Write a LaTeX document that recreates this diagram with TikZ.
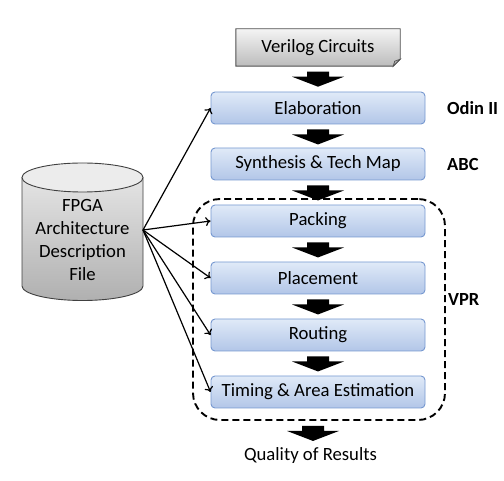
\documentclass[tikz,border=0pt]{standalone}
\usepackage{fontspec}
\setmainfont{Carlito}
\usetikzlibrary{arrows.meta,calc}
\definecolor{bluetop}{RGB}{224,234,248}
\definecolor{bluebot}{RGB}{178,198,232}
\definecolor{blueline}{RGB}{118,152,208}
\definecolor{graytop}{RGB}{244,244,244}
\definecolor{graybot}{RGB}{188,188,188}
\definecolor{grayline}{RGB}{80,80,80}
\definecolor{cyltop}{RGB}{228,228,228}
\definecolor{cylbot}{RGB}{176,176,176}
\definecolor{cylcap}{RGB}{236,236,236}
\tikzset{
  stepbox/.style={rectangle, rounded corners=4pt, draw=blueline, line width=0.9pt,
    top color=bluetop, bottom color=bluebot, minimum width=214pt, minimum height=32pt,
    inner sep=0pt, font=\fontsize{18.7}{22}\selectfont},
  toolname/.style={anchor=west, font=\bfseries\fontsize{18.5}{22}\selectfont, inner sep=0pt},
  plain/.style={font=\fontsize{18.7}{22}\selectfont, inner sep=0pt},
  feed/.style={line width=1.2pt, -{To[length=5pt,width=9pt]}},
  blockarrow/.pic={\fill[black] (-11,0) -- (11,0) -- (11,-5) -- (26,-5) -- (0,-15) -- (-26,-5) -- (-11,-5) -- cycle;}
}
\begin{document}
\begin{tikzpicture}[x=1pt,y=1pt]
\useasboundingbox (0,0) rectangle (504,-481);

% Verilog input (folded corner)
\node[minimum width=164pt, minimum height=37pt, inner sep=0pt] (ver) at (318,-47.5) {};
\shade[top color=graytop, bottom color=graybot, draw=grayline, line width=0.9pt]
  (ver.north west) -- (ver.north east) -- ([yshift=7pt]ver.south east) -- ([xshift=-7pt]ver.south east) -- (ver.south west) -- cycle;
\fill[gray!60, draw=grayline, line width=0.7pt] ([yshift=7pt]ver.south east) -- ([xshift=-7pt]ver.south east) -- ([xshift=-5.5pt,yshift=5pt]ver.south east) -- cycle;
\node[plain] (vertext) at (ver.center) {Verilog Circuits};

% flow steps
\node[stepbox] (elab) at (318,-108) {Elaboration};
\node[stepbox] (syn)  at (318,-164) {Synthesis \& Tech Map};
\node[stepbox] (pack) at (318,-221) {Packing};
\node[stepbox] (place) at (318,-278) {Placement};
\node[stepbox] (route) at (318,-335) {Routing};
\node[stepbox] (time) at (318,-392) {Timing \& Area Estimation};

% VPR dashed region
\node[draw, dashed, dash pattern=on 7pt off 4pt, line width=1.9pt, rounded corners=27pt,
  minimum width=252pt, minimum height=221pt, inner sep=0pt] (vpr) at (319,-309.5) {};

% tool labels
\node[toolname] (odin) at (447,-108) {Odin II};
\node[toolname] (abc) at (447,-164) {ABC};
\node[toolname] (vprlab) at (448,-300) {VPR};

% output
\node[plain] (qor) at (310.5,-456) {Quality of Results};

% block arrows
\pic at ([yshift=-5.5pt]ver.south) {blockarrow};
\pic at ([yshift=-5pt]elab.south) {blockarrow};
\pic at ([yshift=-5pt]syn.south) {blockarrow};
\pic at ([yshift=-5pt]pack.south) {blockarrow};
\pic at ([yshift=-5pt]place.south) {blockarrow};
\pic at ([yshift=-5pt]route.south) {blockarrow};
\pic at ([xshift=-6pt,yshift=-5pt]vpr.south) {blockarrow};

% architecture file cylinder
\shade[top color=cyltop, bottom color=cylbot, draw=grayline!80!black, line width=0.9pt]
  (22,-177.5) -- (22,-286) arc (180:360:60.5 and 14.5) -- (143,-177.5) -- cycle;
\draw[fill=cylcap, draw=grayline!80!black, line width=0.9pt] (82.5,-177.5) ellipse (60.5 and 14.5);
\node[plain, align=center, font=\fontsize{18.7}{22.7}\selectfont] (arch) at (82.5,-240) {FPGA\\Architecture\\Description\\File};
\coordinate (fan) at (143,-230);

% feeds
\draw[feed] (fan) -- (elab.west);
\draw[feed] (fan) -- (pack.west);
\draw[feed] (fan) -- (place.west);
\draw[feed] (fan) -- (route.west);
\draw[feed] (fan) -- (time.west);
\end{tikzpicture}
\end{document}
